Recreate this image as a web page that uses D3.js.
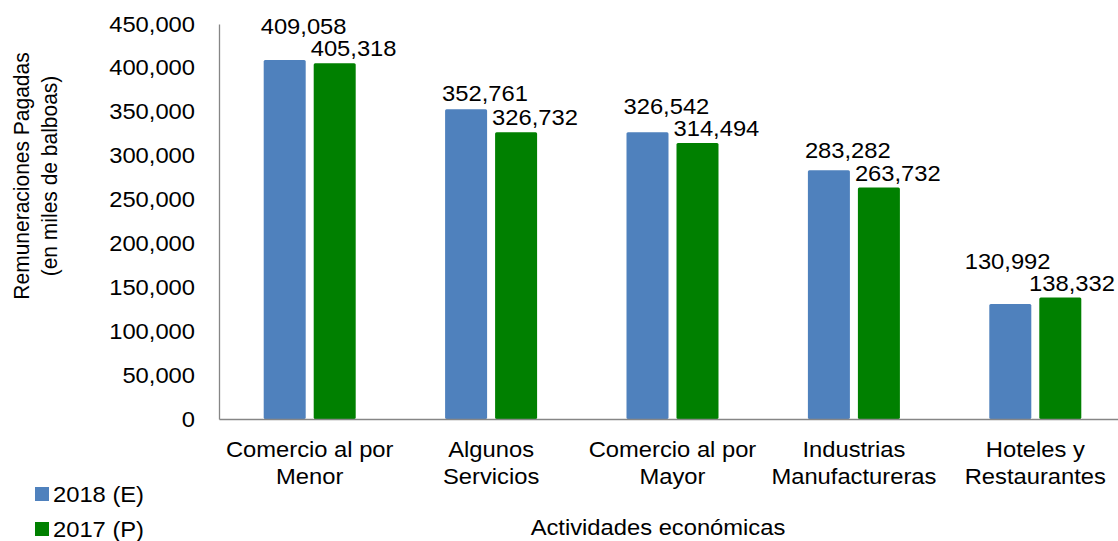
<!DOCTYPE html>
<html>
<head>
<meta charset="utf-8">
<script src="https://cdn.jsdelivr.net/npm/d3@7"></script>
<style>
  body { margin: 0; background: #fff; }
  text { font-family: "Liberation Sans", Arial, sans-serif; fill: #000; }
</style>
</head>
<body>
<svg id="chart" width="1118" height="541"></svg>
<script>
// data
const categories = [
    ["Comercio al por", "Menor"],
    ["Algunos", "Servicios"],
    ["Comercio al por", "Mayor"],
    ["Industrias", "Manufactureras"],
    ["Hoteles y", "Restaurantes"]
]
const seriesNames = ["2018 (E)", "2017 (P)"]
const values2018 = [409058, 352761, 326542, 283282, 130992]
const values2017 = [405318, 326732, 314494, 263732, 138332]
const yTicks = [0, 50000, 100000, 150000, 200000, 250000, 300000, 350000, 400000, 450000]
const colors = ["#4F81BD", "#008000"]

const svg = d3.select("#chart")
const width = 1118
const fontSize = 22
const axisColor = "#868686"
const widen = 1.08  // the reference text is a bit wider than Liberation Sans

const plotLeft = 219, plotRight = 1126, plotTop = 24, plotBottom = 419

const catKeys = categories.map(c => c.join(" "))
const x0 = d3.scaleBand().domain(catKeys).range([plotLeft, plotRight])
const x1 = d3.scaleBand().domain(seriesNames)
    .range([44.7, x0.bandwidth() - 44.7]).paddingInner(0.16)
const y = d3.scaleLinear().domain([0, 450000]).range([plotBottom, plotTop])

const rows = catKeys.map((k, i) => ({
    key: k,
    vals: [values2018[i], values2017[i]]
}))

// y axis
const yAxis = svg.append("g")
    .attr("transform", `translate(${plotLeft},0)`)
    .call(d3.axisLeft(y).tickValues(yTicks).tickSize(0).tickPadding(24)
        .tickFormat(d3.format(",")))
yAxis.select(".domain").attr("stroke", axisColor).attr("stroke-width", 1.3)
yAxis.selectAll("text").style("font-size", fontSize + "px").attr("fill", "#000")
    .classed("wide", true)

// bars
const groups = svg.append("g").selectAll("g")
    .data(rows)
    .join("g")
    .attr("transform", d => `translate(${x0(d.key)},0)`)

groups.selectAll("rect")
    .data(d => d.vals.map((v, j) => ({name: seriesNames[j], value: v, j: j})))
    .join("rect")
    .attr("x", d => x1(d.name))
    .attr("y", d => y(d.value))
    .attr("width", x1.bandwidth())
    .attr("height", d => y(0) - y(d.value))
    .attr("rx", 1.5)
    .attr("fill", d => colors[d.j])

// data labels, blue label pushed up when it would hit the green one,
// both pulled left when the green one would run off the right edge
groups.each(function(d) {
    const g = d3.select(this)
    const gx = x0(d.key)
    const greenBase = y(d.vals[1]) - 7
    const blueBase = Math.min(y(d.vals[0]) - 8, greenBase - 22)
    const bases = [blueBase, greenBase]
    const labels = d.vals.map((v, j) => g.append("text")
        .attr("class", "wide")
        .attr("x", x1(seriesNames[j]) - 3)
        .attr("y", bases[j])
        .style("font-size", fontSize + "px")
        .text(d3.format(",")(v)))
    const last = labels[1]
    const rightEdge = gx + (+last.attr("x")) + last.node().getComputedTextLength() * widen
    if (rightEdge > width - 3) {
        const shift = rightEdge - (width - 3)
        labels[1].attr("x", +labels[1].attr("x") - shift)
        labels[0].attr("x", +labels[0].attr("x") - shift * 3)
    }
})

// x axis
const xAxis = svg.append("g")
    .attr("transform", `translate(0,${plotBottom})`)
    .call(d3.axisBottom(x0).tickSize(0).tickSizeOuter(0).tickFormat(""))
xAxis.select(".domain").attr("stroke", axisColor).attr("stroke-width", 1.3)

xAxis.selectAll(".tick").each(function(k) {
    const lines = categories[catKeys.indexOf(k)]
    const t = d3.select(this).append("text")
        .attr("class", "wide")
        .attr("text-anchor", "middle")
        .style("font-size", fontSize + "px")
    lines.forEach((line, i) => {
        t.append("tspan").attr("x", 0).attr("y", 38 + i * 27).text(line)
    })
})

// axis titles
svg.append("text")
    .attr("class", "wide")
    .attr("x", 658).attr("y", 535)
    .attr("text-anchor", "middle")
    .style("font-size", fontSize + "px")
    .text("Actividades económicas")

const yTitle = ["Remuneraciones Pagadas", "(en miles de balboas)"]
yTitle.forEach((line, i) => {
    svg.append("text")
        .attr("transform", `translate(${29 + i * 28},176) rotate(-90) scale(1,${widen})`)
        .attr("text-anchor", "middle")
        .style("font-size", "21px")
        .text(line)
})

// legend
const legend = svg.append("g").selectAll("g")
    .data(seriesNames)
    .join("g")
    .attr("transform", (d, i) => `translate(35,${487 + i * 35})`)
legend.append("rect")
    .attr("width", 14).attr("height", 14)
    .attr("fill", (d, i) => colors[i])
legend.append("text")
    .attr("class", "wide")
    .attr("x", 18).attr("y", 15)
    .style("font-size", fontSize + "px")
    .text(d => d)

// stretch horizontal texts around their anchor x
svg.selectAll("text.wide").each(function() {
    const ax = +(this.getAttribute("x") || 0)
    d3.select(this).attr("transform",
        `translate(${ax},0) scale(${widen},1) translate(${-ax},0)`)
})
</script>
</body>
</html>
